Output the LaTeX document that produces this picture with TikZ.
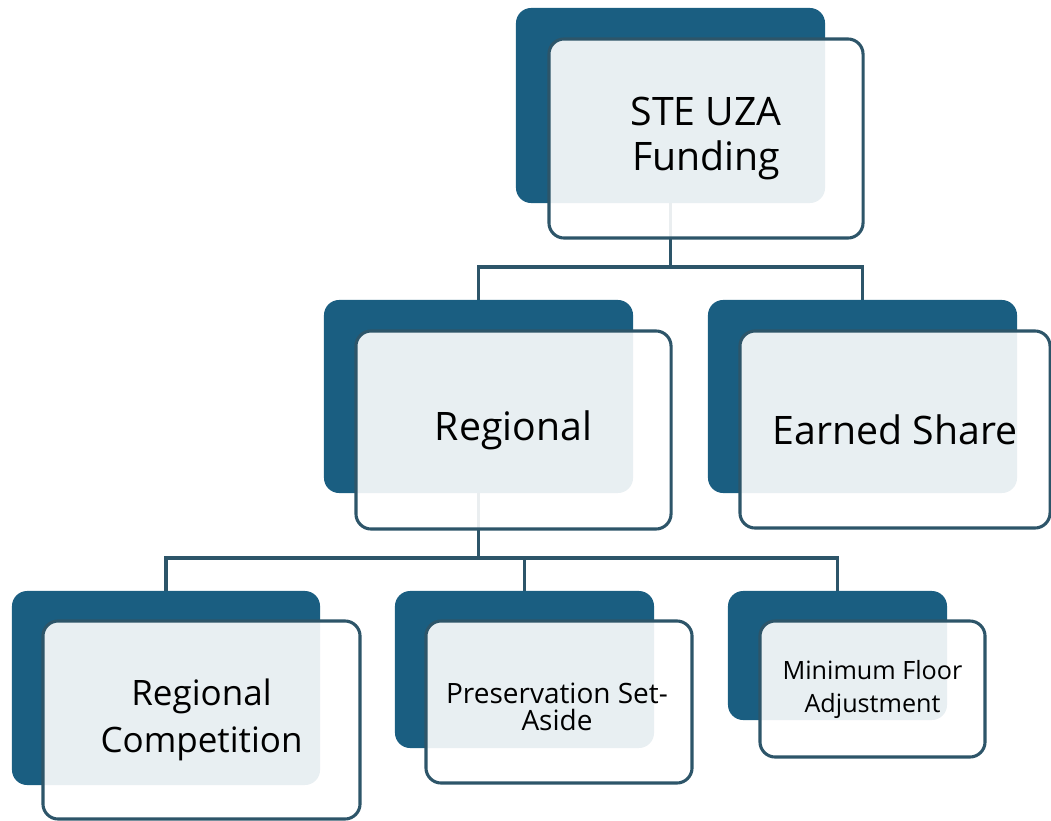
\documentclass[tikz,border=0pt]{standalone}
\usepackage{fontspec}
\setmainfont{Open Sans}
\usetikzlibrary{backgrounds}
\definecolor{cardblue}{HTML}{1A5E81}
\definecolor{edgeblue}{HTML}{2D5569}

\begin{document}
\begin{tikzpicture}[x=0.025cm,y=-0.025cm,
    darkcard/.style={fill=cardblue, rounded corners=0.38cm, inner sep=0pt},
    lightcard/.style={draw=edgeblue, line width=2.2pt, fill=white, fill opacity=0.9,
        text opacity=1, rounded corners=0.38cm, inner sep=0pt, align=center},
    link/.style={draw=edgeblue, line width=2.2pt},
    txtl/.style={font=\fontsize{27.9pt}{32pt}\selectfont},
    txtm/.style={font=\fontsize{24.9pt}{33.4pt}\selectfont},
    txts/.style={font=\fontsize{19.9pt}{19.2pt}\selectfont, align=center},
    txtxs/.style={font=\fontsize{17.9pt}{23.5pt}\selectfont}]
    \useasboundingbox (0,0) rectangle (1051,821);

    % top
    \node[darkcard, minimum width=7.725cm, minimum height=4.875cm] (fundb) at (670.5,105.5) {};
    \node[lightcard, txtl, minimum width=7.85cm, minimum height=4.975cm] (fund) at (706,138.5) {STE UZA\\Funding};

    % second row
    \node[darkcard, minimum width=7.725cm, minimum height=4.825cm] (regb) at (478.5,396.5) {};
    \node[lightcard, txtl, minimum width=7.875cm, minimum height=4.95cm] (reg) at (513.5,430) {Regional};
    \node[darkcard, minimum width=7.725cm, minimum height=4.825cm] (earnb) at (862.5,396.5) {};
    \node[lightcard, txtl, minimum width=7.75cm, minimum height=4.925cm] (earn) at (895,429.5) {Earned Share};

    % third row
    \node[darkcard, minimum width=7.7cm, minimum height=4.85cm] (compb) at (166,688) {};
    \node[lightcard, txtm, minimum width=7.925cm, minimum height=4.95cm] (comp) at (201.5,720) {Regional\\Competition};
    \node[darkcard, minimum width=6.475cm, minimum height=3.925cm] (presb) at (524.5,669.5) {};
    \node[lightcard, minimum width=6.65cm, minimum height=4.05cm] (pres) at (559,702) {};
    \node[txts] (prestxt) at (557,707) {Preservation Set-\\Aside};
    \node[darkcard, minimum width=5.475cm, minimum height=3.225cm] (minb) at (837.5,655.5) {};
    \node[lightcard, txtxs, minimum width=5.625cm, minimum height=3.4cm] (min) at (872.5,689) {Minimum Floor\\Adjustment};

    \coordinate (bus1) at (0,267);
    \coordinate (bus2) at (0,558);
    \begin{pgfonlayer}{background}
        \draw[link] (fundb.center) |- (bus1 -| regb.center) -- (regb.north);
        \draw[link] (fundb.center) |- (bus1 -| earnb.center) -- (earnb.north);
        \draw[link] (regb.center) |- (bus2 -| compb.center) -- (compb.north);
        \draw[link] (regb.center) |- (bus2 -| presb.center) -- (presb.north);
        \draw[link] (regb.center) |- (bus2 -| minb.center) -- (minb.north);
    \end{pgfonlayer}
\end{tikzpicture}
\end{document}
